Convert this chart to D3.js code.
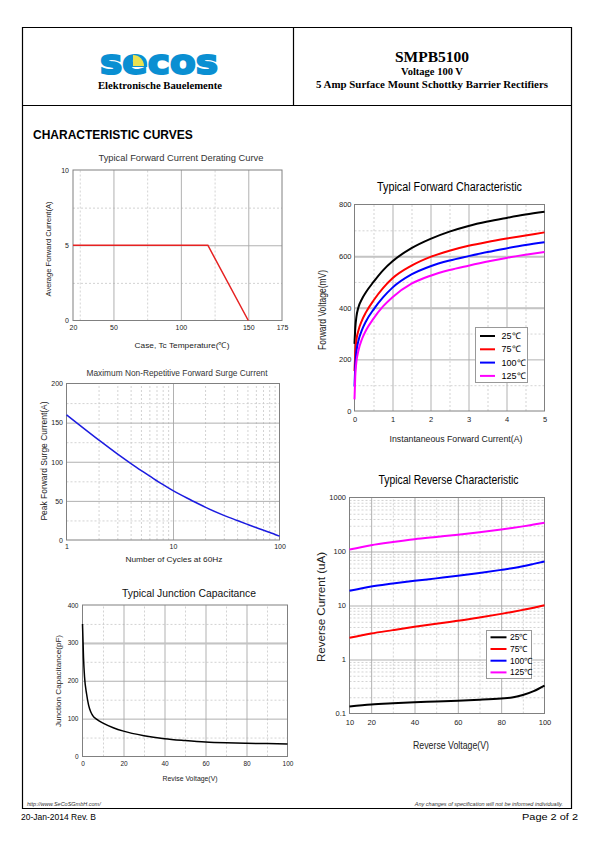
<!DOCTYPE html>
<html><head><meta charset="utf-8">
<script src="https://cdn.jsdelivr.net/npm/d3@7"></script>
<style>body{margin:0;background:#fff}svg{display:block}</style>
</head><body><svg id="c" width="595" height="842"></svg>
<script>
// ---------------- data ----------------
const deratingTemp = [20, 120, 150];
const deratingCurrent = [5, 5, 0];

const surgeCycles = [1, 2, 3, 4, 5, 6, 8, 10, 15, 20, 30, 40, 50, 60, 80, 100];
const surgeCurrent = [160, 128, 110, 98, 89, 82, 71, 63, 50.5, 42, 31.5, 25, 20, 16, 10, 5];

const capVoltage = [0, 0.5, 1, 2, 3, 4, 5, 7, 10, 15, 20, 30, 40, 50, 60, 70, 80, 90, 100];
const capValue = [350, 260, 210, 165, 135, 118, 108, 98, 88, 76, 67, 55, 47, 42, 38, 36, 35, 34, 33];

const fwdCurrent = [0, 0.02, 0.05, 0.1, 0.2, 0.3, 0.5, 0.75, 1, 1.5, 2, 2.5, 3, 3.5, 4, 4.5, 5];
const fwd25 = [260, 320, 365, 400, 435, 460, 500, 545, 580, 631, 667, 695, 717, 734, 748, 761, 772];
const fwd75 = [155, 225, 275, 310, 352, 382, 428, 476, 514, 563, 597, 621, 640, 655, 668, 680, 692];
const fwd100 = [95, 175, 230, 270, 315, 347, 393, 440, 478, 529, 561, 583, 600, 616, 630, 643, 654];
const fwd125 = [45, 135, 190, 232, 280, 312, 358, 405, 441, 493, 524, 546, 563, 579, 593, 605, 616];

const revVoltage = [10, 20, 30, 40, 50, 60, 70, 80, 85, 90, 95, 100];
const rev25 = [0.135, 0.147, 0.155, 0.162, 0.167, 0.172, 0.18, 0.19, 0.197, 0.22, 0.26, 0.33];
const rev75 = [2.52, 3.03, 3.5, 4.03, 4.6, 5.2, 6.0, 7.0, 7.6, 8.3, 9.1, 10.1];
const rev100 = [18.7, 22.5, 25.5, 28.6, 31.8, 35.4, 40, 45.7, 49, 53.5, 59, 65.3];
const rev125 = [109, 131, 150, 169, 186, 204, 227, 255, 272, 292, 315, 340];

const tempLabels = ["25\u2103", "75\u2103", "100\u2103", "125\u2103"];
const tempColors = ["#000000", "#ff0000", "#0000ff", "#ff00ff"];

const deratingXTicks = [20, 50, 100, 150, 175];
const deratingYTicks = [0, 5, 10];
const surgeXTicks = [1, 10, 100];
const surgeYTicks = [0, 50, 100, 150, 200];
const capXTicks = [0, 20, 40, 60, 80, 100];
const capYTicks = [0, 100, 200, 300, 400];
const fwdXTicks = [0, 1, 2, 3, 4, 5];
const fwdYTicks = [0, 200, 400, 600, 800];
const revXTicks = [10, 20, 40, 60, 80, 100];
const revYTicks = [0.1, 1, 10, 100, 1000];

// ---------------- page ----------------
const SANS = '"Liberation Sans", Arial, sans-serif';
const SERIF = '"Liberation Serif", "Times New Roman", serif';
const svg = d3.select("#c");
svg.append("rect").attr("width", 595).attr("height", 842).attr("fill", "#fff");

const frame = svg.append("g").attr("stroke", "#000").attr("stroke-width", 1.2).attr("fill", "none");
frame.append("line").attr("x1", 22.5).attr("x2", 22.5).attr("y1", 27).attr("y2", 809);
frame.append("line").attr("x1", 571.5).attr("x2", 571.5).attr("y1", 27).attr("y2", 809);
frame.append("line").attr("x1", 22).attr("x2", 572).attr("y1", 27.5).attr("y2", 27.5);
frame.append("line").attr("x1", 22).attr("x2", 572).attr("y1", 105.5).attr("y2", 105.5);
frame.append("line").attr("x1", 22).attr("x2", 572).attr("y1", 808.5).attr("y2", 808.5);
frame.append("line").attr("x1", 293.5).attr("x2", 293.5).attr("y1", 27).attr("y2", 105.5);

function txt(x, y, s, o = {}) {
  const t = svg.append("text").attr("x", x).attr("y", y).text(s)
    .attr("font-family", o.family || SANS).attr("font-size", o.fs || 8)
    .attr("fill", o.fill || "#000").attr("text-anchor", o.anchor || "start");
  if (o.weight) t.attr("font-weight", o.weight);
  if (o.style) t.attr("font-style", o.style);
  if (o.len) t.attr("textLength", o.len).attr("lengthAdjust", "spacingAndGlyphs");
  if (o.rotate) t.attr("transform", `rotate(-90,${x},${y})`).attr("dy", "0.35em");
  return t;
}

// logo
svg.append("text").attr("x", 100).attr("y", 74).text("secos")
  .attr("font-family", '"DejaVu Sans", sans-serif').attr("font-weight", "bold").attr("font-size", 34)
  .attr("fill", "#0a8fd2").attr("stroke", "#0a8fd2").attr("stroke-width", 2)
  .attr("textLength", 118).attr("lengthAdjust", "spacingAndGlyphs");
svg.append("path").attr("d", "M133,66 L133,55 A11,11 0 0 1 144,66 Z").attr("fill", "#e9e150");
txt(160, 89, "Elektronische Bauelemente", { family: SERIF, fs: 9.5, weight: "bold", anchor: "middle", len: 124 });

txt(432, 61.5, "SMPB5100", { family: SERIF, fs: 15.5, weight: "bold", anchor: "middle" });
txt(432, 74.5, "Voltage 100 V", { family: SERIF, fs: 10.5, weight: "bold", anchor: "middle" });
txt(432, 87.5, "5 Amp Surface Mount Schottky Barrier Rectifiers", { family: SERIF, fs: 10, weight: "bold", anchor: "middle", len: 232 });

txt(33, 139, "CHARACTERISTIC CURVES", { fs: 12, weight: "bold" });

txt(27, 806, "http://www.SeCoSGmbH.com/", { fs: 5.5, style: "italic", fill: "#333" });
txt(563, 806, "Any changes of specification will not be informed individually.", { fs: 5.5, style: "italic", fill: "#333", anchor: "end" });
txt(21, 820, "20-Jan-2014 Rev. B", { fs: 8.5 });
txt(578, 820, "Page  2  of  2", { fs: 8.5, anchor: "end", len: 56 });

// ---------------- panels ----------------
function panel(c) {
  const g = svg.append("g");
  const x = c.x, y = c.y;
  const [L, R] = x.range();
  const [B, T] = y.range();
  const gridStyle = (s, color, dash, w) => {
    s.select(".domain").remove();
    s.selectAll(".tick line").attr("stroke", color).attr("stroke-width", w).attr("stroke-dasharray", dash);
  };
  g.append("g").attr("transform", `translate(0,${B})`)
    .call(d3.axisBottom(x).tickValues(c.xMinor).tickSize(-(B - T)).tickFormat(""))
    .call(s => gridStyle(s, "#c8c8c8", "2,2", 0.8));
  g.append("g").attr("transform", `translate(${L},0)`)
    .call(d3.axisLeft(y).tickValues(c.yMinor).tickSize(-(R - L)).tickFormat(""))
    .call(s => gridStyle(s, "#c8c8c8", "2,2", 0.8));
  g.append("g").attr("transform", `translate(0,${B})`)
    .call(d3.axisBottom(x).tickValues(c.xMajor).tickSize(-(B - T)).tickFormat(""))
    .call(s => gridStyle(s, "#a8a8a8", null, 0.9));
  g.append("g").attr("transform", `translate(${L},0)`)
    .call(d3.axisLeft(y).tickValues(c.yMajor).tickSize(-(R - L)).tickFormat(""))
    .call(s => gridStyle(s, "#a8a8a8", null, 0.9));
  if (c.yThick) {
    g.append("g").attr("transform", `translate(${L},0)`)
      .call(d3.axisLeft(y).tickValues(c.yThick).tickSize(-(R - L)).tickFormat(""))
      .call(s => gridStyle(s, "#c4c4c4", null, 2));
  }
  g.append("rect").attr("x", L).attr("y", T).attr("width", R - L).attr("height", B - T)
    .attr("fill", "none").attr("stroke", "#808080").attr("stroke-width", 1);
  const lab = (s) => {
    s.select(".domain").remove();
    s.attr("font-family", SANS).attr("font-size", c.tickFs);
    s.selectAll("text").attr("fill", "#222");
  };
  g.append("g").attr("transform", `translate(0,${B})`)
    .call(d3.axisBottom(x).tickValues(c.xTicks).tickSize(0).tickPadding(c.xPad).tickFormat(d => String(d)))
    .call(lab);
  g.append("g").attr("transform", `translate(${L},0)`)
    .call(d3.axisLeft(y).tickValues(c.yTicks).tickSize(0).tickPadding(c.yPad).tickFormat(d => String(d)))
    .call(lab);
  c.series.forEach(sr => {
    g.append("path").datum(d3.zip(sr.xs, sr.ys))
      .attr("d", d3.line().x(d => x(d[0])).y(d => y(d[1])).curve(sr.curve || d3.curveMonotoneX))
      .attr("fill", "none").attr("stroke", sr.color).attr("stroke-width", c.lw);
  });
  return g;
}

function legend(x0, y0, w, h, rowY, lineX1, lineX2, textX, fs) {
  svg.append("rect").attr("x", x0).attr("y", y0).attr("width", w).attr("height", h)
    .attr("fill", "#fff").attr("stroke", "#999").attr("stroke-width", 1);
  tempLabels.forEach((t, i) => {
    svg.append("line").attr("x1", lineX1).attr("x2", lineX2).attr("y1", rowY[i]).attr("y2", rowY[i])
      .attr("stroke", tempColors[i]).attr("stroke-width", 2);
    txt(textX, rowY[i] + fs * 0.35, t, { fs: fs });
  });
}

// 1. Derating
panel({
  x: d3.scaleLinear().domain([20, 175]).range([73, 282]),
  y: d3.scaleLinear().domain([0, 10]).range([320.5, 170]),
  xMinor: [25, 75, 125], xMajor: [50, 100, 150], yMinor: [2.5, 7.5], yMajor: [5],
  xTicks: deratingXTicks, yTicks: deratingYTicks, tickFs: 7, xPad: 4.5, yPad: 4,
  lw: 1.5,
  series: [{ xs: deratingTemp, ys: deratingCurrent, color: "#e62222", curve: d3.curveLinear }]
});
txt(181, 160.5, "Typical Forward Current Derating Curve", { fs: 8.5, fill: "#333", anchor: "middle", len: 165 });
txt(182, 348, "Case, Tc Temperature(\u2103)", { fs: 8, fill: "#222", anchor: "middle", len: 95 });
txt(48.5, 249, "Average Forward Current(A)", { fs: 8, fill: "#222", anchor: "middle", rotate: true, len: 95 });

// 2. Surge
panel({
  x: d3.scaleLog().domain([1, 100]).range([66.5, 279.5]),
  y: d3.scaleLinear().domain([0, 200]).range([540, 383.5]),
  xMinor: [2, 3, 4, 5, 6, 7, 8, 9, 20, 30, 40, 50, 60, 70, 80, 90], xMajor: [10],
  yMinor: [25, 75, 125, 175], yMajor: [50, 100, 150],
  xTicks: surgeXTicks, yTicks: surgeYTicks, tickFs: 7, xPad: 4.5, yPad: 3.5,
  lw: 1.5,
  series: [{ xs: surgeCycles, ys: surgeCurrent, color: "#1c1ce0" }]
});
txt(177, 375.5, "Maximum Non-Repetitive Forward Surge Current", { fs: 8.5, fill: "#333", anchor: "middle", len: 181 });
txt(174, 562, "Number of Cycles at 60Hz", { fs: 8, fill: "#222", anchor: "middle", len: 97 });
txt(44, 461, "Peak Forward Surge Current(A)", { fs: 8.5, fill: "#222", anchor: "middle", rotate: true, len: 119 });

// 3. Junction capacitance
panel({
  x: d3.scaleLinear().domain([0, 100]).range([82.5, 287.5]),
  y: d3.scaleLinear().domain([0, 400]).range([756.5, 605]),
  xMinor: [10, 30, 50, 70, 90], xMajor: [20, 40, 60, 80],
  yMinor: [50, 150, 250, 350], yMajor: [100, 200, 300], yThick: [300],
  xTicks: capXTicks, yTicks: capYTicks, tickFs: 6.5, xPad: 5, yPad: 4,
  lw: 1.5,
  series: [{ xs: capVoltage, ys: capValue, color: "#000" }]
});
txt(189, 596.5, "Typical Junction Capacitance", { fs: 10.5, fill: "#111", anchor: "middle", len: 134 });
txt(190, 781, "Revise Voltage(V)", { fs: 8, fill: "#222", anchor: "middle", len: 55 });
txt(58.5, 681, "Junction Capacitance(pF)", { fs: 8, fill: "#222", anchor: "middle", rotate: true, len: 92 });

// 4. Forward characteristic
panel({
  x: d3.scaleLinear().domain([0, 5]).range([354.5, 544.5]),
  y: d3.scaleLinear().domain([0, 800]).range([411, 204.5]),
  xMinor: [0.5, 1.5, 2.5, 3.5, 4.5], xMajor: [1, 2, 3, 4],
  yMinor: [100, 300, 500, 700], yMajor: [200, 400, 600], yThick: [400, 600],
  xTicks: fwdXTicks, yTicks: fwdYTicks, tickFs: 7.5, xPad: 6, yPad: 3,
  lw: 2,
  series: [
    { xs: fwdCurrent, ys: fwd25, color: tempColors[0] },
    { xs: fwdCurrent, ys: fwd75, color: tempColors[1] },
    { xs: fwdCurrent, ys: fwd100, color: tempColors[2] },
    { xs: fwdCurrent, ys: fwd125, color: tempColors[3] }
  ]
});
legend(475.5, 327.5, 52, 55, [336, 349.3, 362.6, 375.9], 480, 495, 501.5, 9);
txt(449.5, 191, "Typical Forward Characteristic", { fs: 12, anchor: "middle", len: 145 });
txt(456, 441.5, "Instantaneous Forward Current(A)", { fs: 9.5, fill: "#222", anchor: "middle", len: 133 });
txt(322, 310, "Forward Voltage(mV)", { fs: 10, fill: "#222", anchor: "middle", rotate: true, len: 80 });

// 5. Reverse characteristic
const revMinor = [];
[0.1, 1, 10, 100].forEach(d => { for (let k = 2; k <= 9; k++) revMinor.push(+(d * k).toPrecision(3)); });
panel({
  x: d3.scaleLinear().domain([10, 100]).range([349.5, 544.5]),
  y: d3.scaleLog().domain([0.1, 1000]).range([713.5, 497.5]),
  xMinor: [30, 50, 70, 90], xMajor: [20, 40, 60, 80],
  yMinor: revMinor, yMajor: [1, 10, 100],
  xTicks: revXTicks, yTicks: revYTicks, tickFs: 7.5, xPad: 6, yPad: 3.5,
  lw: 2,
  series: [
    { xs: revVoltage, ys: rev25, color: tempColors[0] },
    { xs: revVoltage, ys: rev75, color: tempColors[1] },
    { xs: revVoltage, ys: rev100, color: tempColors[2] },
    { xs: revVoltage, ys: rev125, color: tempColors[3] }
  ]
});
legend(486.5, 630.5, 45, 48, [637.3, 649, 660.7, 672.4], 490.5, 506.5, 510, 8.5);
txt(448.5, 484, "Typical Reverse Characteristic", { fs: 12, anchor: "middle", len: 140 });
txt(451, 748.5, "Reverse Voltage(V)", { fs: 10, fill: "#222", anchor: "middle", len: 76 });
txt(321, 607, "Reverse Current (uA)", { fs: 10.5, fill: "#222", anchor: "middle", rotate: true, len: 110 });
</script></body></html>
